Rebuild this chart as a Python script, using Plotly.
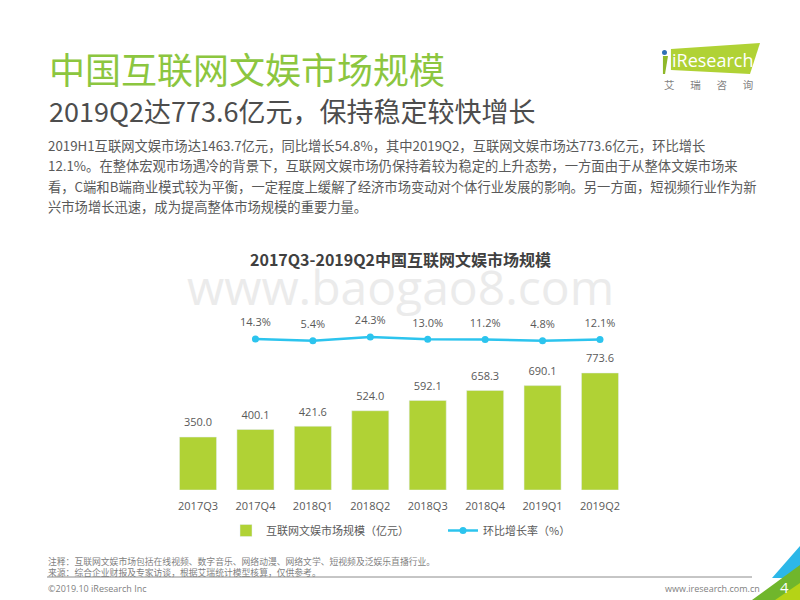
import plotly.graph_objects as go

categories = ["2017Q3","2017Q4","2018Q1","2018Q2","2018Q3","2018Q4","2019Q1","2019Q2"]
market_size = [350.0,400.1,421.6,524.0,592.1,658.3,690.1,773.6]
growth_rate = [None,14.3,5.4,24.3,13.0,11.2,4.8,12.1]
size_name = "互联网文娱市场规模（亿元）"
rate_name = "环比增长率（%）"
chart_title = "2017Q3-2019Q2中国互联网文娱市场规模"
page_title = "中国互联网文娱市场规模"
page_subtitle = "2019Q2达773.6亿元，保持稳定较快增长"
body_lines = [
 "2019H1互联网文娱市场达1463.7亿元，同比增长54.8%，其中2019Q2，互联网文娱市场达773.6亿元，环比增长",
 "12.1%。在整体宏观市场遇冷的背景下，互联网文娱市场仍保持着较为稳定的上升态势，一方面由于从整体文娱市场来",
 "看，C端和B端商业模式较为平衡，一定程度上缓解了经济市场变动对个体行业发展的影响。另一方面，短视频行业作为新",
 "兴市场增长迅速，成为提高整体市场规模的重要力量。",
]
note_lines = ["注释：互联网文娱市场包括在线视频、数字音乐、网络动漫、网络文学、短视频及泛娱乐直播行业。",
              "来源：综合企业财报及专家访谈，根据艾瑞统计模型核算，仅供参考。"]

FONT = "Open Sans, Noto Sans CJK SC, sans-serif"
CJK = "Noto Sans CJK SC, sans-serif"
GREY = "#595959"
W, H = 800, 600
px = lambda x: x / W
py = lambda y: 1 - y / H

fig = go.Figure()
fig.add_trace(go.Bar(x=categories, y=market_size, name=size_name, marker_color="#b0d235", width=0.645))
fig.add_trace(go.Scatter(x=categories, y=market_size, mode="markers+text", showlegend=False, hoverinfo="skip",
                         marker=dict(size=11, opacity=0), text=[f"{v:.1f}" for v in market_size],
                         textposition="top center", textfont=dict(size=11, color=GREY), cliponaxis=False))
fig.add_trace(go.Scatter(x=categories, y=growth_rate, name=rate_name, yaxis="y2", mode="lines+markers",
                         line=dict(color="#2cc4ee", width=2.5), marker=dict(size=7, color="#2cc4ee"),
                         cliponaxis=False))
fig.add_trace(go.Scatter(x=categories, y=growth_rate, yaxis="y2", mode="markers+text", showlegend=False,
                         hoverinfo="skip", marker=dict(size=14, opacity=0),
                         text=[None if v is None else f"{v:.1f}%" for v in growth_rate],
                         textposition="top center", textfont=dict(size=11, color=GREY), cliponaxis=False))

def note(x, y, text, size, color=GREY, anchor="left", family=CJK):
    fig.add_annotation(xref="paper", yref="paper", x=px(x), y=py(y), text=text, showarrow=False,
                       xanchor=anchor, yanchor="middle", align=anchor,
                       font=dict(size=size, color=color, family=family))

# watermark
note(400, 286, "www.baogao8.com", 48, "#ebebeb", "center", "Open Sans, sans-serif")
note(47, 68, page_title, 36, "#8cc63f")
note(47, 110, page_subtitle, 27, "#4d4d4d")
for i, line in enumerate(body_lines):
    note(46, 145 + i * 20.6, line, 13.3, GREY)
note(400, 259, f"<b>{chart_title}</b>", 16, "#404040", "center")
note(46, 561, note_lines[0], 8.8, "#7f7f7f")
note(46, 572, note_lines[1], 8.8, "#7f7f7f")
note(46, 588, "©2019.10 iResearch Inc", 9, "#7f7f7f", family=FONT)
note(762, 588, "www.iresearch.com.cn", 9, "#7f7f7f", "right", FONT)
note(784, 587, "4", 15, "#ffffff", "center", FONT)
note(712, 60, "iResearch", 18, "#ffffff", "center", "Open Sans, sans-serif")
note(708, 84, "艾\u3000\u2002瑞\u3000\u2002咨\u3000\u2002询", 10.5, "#7f7f7f", "center")

def poly(points, color):
    d = "M " + " L ".join(f"{px(x):.4f},{py(y):.4f}" for x, y in points) + " Z"
    fig.add_shape(type="path", xref="paper", yref="paper", path=d, fillcolor=color, line_width=0, layer="below")

poly([(671,49),(760,43),(750,74),(671,70)], "#b0d235")
poly([(663,56),(668,56),(665,74),(663,74)], "#8fb82a")
fig.add_shape(type="circle", xref="paper", yref="paper", x0=px(662), x1=px(667), y0=py(55), y1=py(50),
              fillcolor="#2f6fb5", line_width=0)
poly([(800,546),(800,578),(772,578)], "#2cb7e8")
poly([(800,565),(800,600),(752,600)], "#70b62c")
poly([(800,583),(800,600),(775,600)], "#b5d316")
fig.add_shape(type="line", xref="paper", yref="paper", x0=px(47), x1=px(752), y0=py(577), y1=py(577),
              line=dict(color="#8c8c8c", width=1))

fig.update_layout(
    width=W, height=H, autosize=False, margin=dict(l=0, r=0, t=0, b=0),
    paper_bgcolor="white", plot_bgcolor="rgba(0,0,0,0)", font=dict(family=FONT, color=GREY),
    bargap=0.35, showlegend=True,
    xaxis=dict(domain=[px(169.3), px(628.7)], anchor="y", tickfont=dict(size=11, color=GREY),
               showgrid=False, zeroline=False, showline=False, ticks="outside", ticklen=6,
               tickcolor="rgba(0,0,0,0)", tickangle=0,
               categoryorder="array", categoryarray=categories, range=[-0.5, 7.5]),
    yaxis=dict(domain=[py(490), py(300)], range=[0, 1256], visible=False),
    yaxis2=dict(domain=[py(490), py(300)], range=[-741, 209], overlaying="y", visible=False),
    legend=dict(orientation="h", xref="paper", yref="paper", x=px(226), y=py(516), xanchor="left", yanchor="top",
                font=dict(size=11, color=GREY, family=CJK), entrywidth=172, entrywidthmode="pixels",
                bgcolor="rgba(0,0,0,0)", itemsizing="trace", itemclick=False, itemwidth=30),
)
fig.write_html("out.html", config=dict(displayModeBar=False),
               post_script="document.body.style.margin='0';document.documentElement.style.overflow='hidden';")
